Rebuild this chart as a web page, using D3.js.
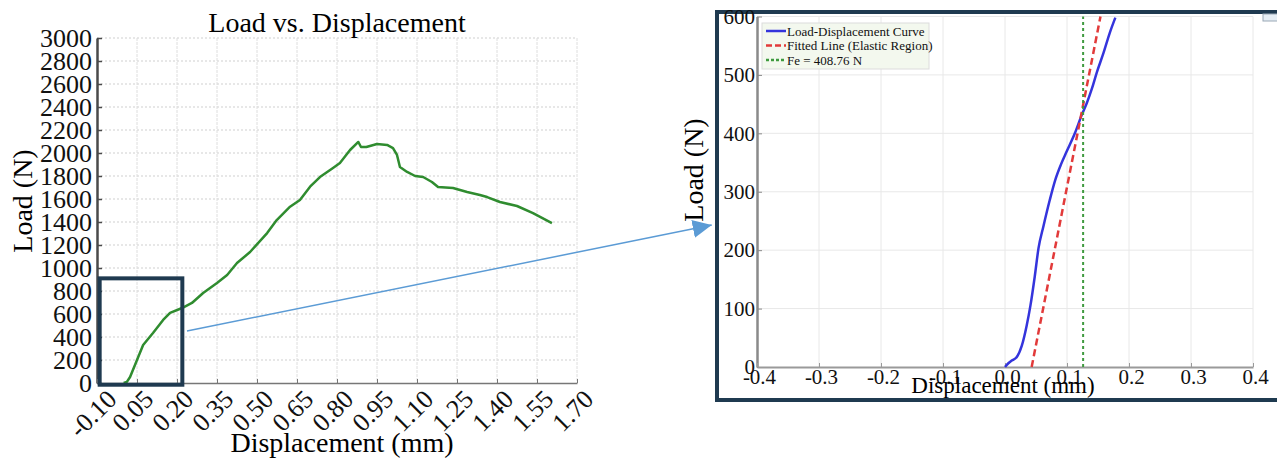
<!DOCTYPE html>
<html>
<head>
<meta charset="utf-8">
<script src="https://cdn.jsdelivr.net/npm/d3@7"></script>
<style>
  body { margin: 0; background: #fff; }
  svg { display: block; font-family: "Liberation Serif", "Times New Roman", serif; }
  svg text { font-family: "Liberation Serif", "Times New Roman", serif; }
</style>
</head>
<body>
<svg id="chart" width="1277" height="465"></svg>
<script>
/*
 * Data.
 */

// full test curve (left panel)
const dispFull = [0.000, 0.012, 0.024, 0.050, 0.073, 0.110, 0.148, 0.174, 0.219, 0.256,
  0.298, 0.350, 0.388, 0.425, 0.474, 0.538, 0.574, 0.624, 0.661, 0.699,
  0.736, 0.785, 0.811, 0.849, 0.880, 0.890, 0.910, 0.950, 0.988, 1.010,
  1.025, 1.036, 1.063, 1.093, 1.123, 1.156, 1.179, 1.235, 1.288, 1.336,
  1.363, 1.411, 1.475, 1.535, 1.606];
const loadFull = [0, 10, 52, 200, 330, 435, 548, 609, 652, 696,
  783, 870, 939, 1043, 1139, 1304, 1417, 1533, 1591, 1707,
  1791, 1870, 1913, 2026, 2096, 2052, 2052, 2078, 2070, 2043,
  1983, 1878, 1835, 1800, 1791, 1748, 1704, 1696, 1661, 1635,
  1617, 1574, 1539, 1478, 1391];
const dispTicksFull = [-0.10, 0.05, 0.20, 0.35, 0.50, 0.65, 0.80, 0.95, 1.10, 1.25, 1.40, 1.55, 1.70];
const loadTicksFull = [0, 200, 400, 600, 800, 1000, 1200, 1400, 1600, 1800, 2000, 2200, 2400, 2600, 2800, 3000];

// zoomed elastic region (right panel)
const dispZoom = [0.000, 0.005, 0.011, 0.019, 0.027, 0.035, 0.041, 0.048, 0.054, 0.062,
  0.072, 0.081, 0.090, 0.100, 0.113, 0.124, 0.132, 0.140, 0.148, 0.159, 0.169, 0.178];
const loadZoom = [0, 6, 11, 17, 36, 71, 105, 155, 203, 241,
  285, 320, 346, 370, 401, 432, 452, 476, 504, 538, 572, 598];
const fitDisp = [0.043, 0.154];
const fitLoad = [0, 600];
const feDisp = [0.126, 0.126];
const feLoad = [0, 600];
const dispTicksZoom = [-0.4, -0.3, -0.2, -0.1, 0.0, 0.1, 0.2, 0.3, 0.4];
const loadTicksZoom = [0, 100, 200, 300, 400, 500, 600];
const legendLabels = ['Load-Displacement Curve', 'Fitted Line (Elastic Region)', 'Fe = 408.76 N'];

// zoom window on the left panel and the arrow linking it to the right panel
const windowDisp = [-0.09, 0.22];
const windowLoad = [-15, 910];
const arrowStart = [0.2375, 452];   // left panel coords
const arrowEnd = [-0.473, 243];     // right panel coords

/*
 * Layout.
 */

const LEFT = {x0: 97, x1: 577, y0: 383, y1: 38};
const RIGHT = {x0: 757, x1: 1253, y0: 367, y1: 16.5};
const NAVY = '#1f3a50';
const SERIF = '"Liberation Serif", "Times New Roman", serif';

const svg = d3.select('#chart');

const xL = d3.scaleLinear().domain([-0.10, 1.70]).range([LEFT.x0, LEFT.x1]);
const yL = d3.scaleLinear().domain([0, 3000]).range([LEFT.y0, LEFT.y1]);
const xR = d3.scaleLinear().domain([-0.4, 0.4]).range([RIGHT.x0, RIGHT.x1]);
const yR = d3.scaleLinear().domain([0, 600]).range([RIGHT.y0, RIGHT.y1]);

// restyle the tick labels d3 axes draw in sans-serif
const serifTicks = (g, size) => {
  g.attr('font-family', SERIF);
  g.selectAll('text')
      .style('font-family', SERIF)
      .attr('font-size', size)
      .attr('fill', '#111');
};

/*
 * Left panel.
 */

const left = svg.append('g').attr('id', 'left');

// grid
left.append('g')
  .selectAll('line')
  .data(loadTicksFull.filter(d => d > 0))
  .join('line')
    .attr('x1', LEFT.x0).attr('x2', LEFT.x1)
    .attr('y1', d => yL(d)).attr('y2', d => yL(d))
    .attr('stroke', '#cfcfcf')
    .attr('stroke-dasharray', '2,2');

left.append('g')
  .selectAll('line')
  .data(dispTicksFull.slice(1))
  .join('line')
    .attr('x1', d => xL(d)).attr('x2', d => xL(d))
    .attr('y1', LEFT.y1).attr('y2', LEFT.y0)
    .attr('stroke', '#dedede')
    .attr('stroke-dasharray', '3,1');

// axes
const axisYL = left.append('g')
    .attr('transform', `translate(${LEFT.x0},0)`)
    .call(d3.axisLeft(yL).tickValues(loadTicksFull).tickSize(-5).tickSizeOuter(0).tickPadding(5)
      .tickFormat(d => String(d)));
axisYL.select('.domain').attr('stroke', '#4a4a4a').attr('stroke-width', 2.5);
axisYL.selectAll('.tick line').attr('stroke', '#4a4a4a').attr('stroke-width', 1.5);
serifTicks(axisYL, 26);

const axisXL = left.append('g')
    .attr('transform', `translate(0,${LEFT.y0})`)
    .call(d3.axisBottom(xL).tickValues(dispTicksFull).tickSize(-4).tickSizeOuter(0)
      .tickFormat(d => d.toFixed(2)));
axisXL.select('.domain').attr('stroke', '#777').attr('stroke-width', 1.5);
axisXL.selectAll('.tick line').attr('stroke', '#777');
serifTicks(axisXL, 26);
axisXL.selectAll('text')
    .attr('y', 0)
    .attr('dy', '0.35em')
    .attr('text-anchor', 'middle')
    .attr('transform', function() {
      const half = (this.getComputedTextLength() + 18) * Math.SQRT1_2 / 2;
      return `translate(-5,${5 + half}) rotate(-45)`;
    });

// curve
const lineL = d3.line()
    .x(i => xL(dispFull[i]))
    .y(i => yL(loadFull[i]));

left.append('path')
    .attr('d', lineL(d3.range(dispFull.length)))
    .attr('fill', 'none')
    .attr('stroke', '#2f8c2f')
    .attr('stroke-width', 2.5)
    .attr('stroke-linejoin', 'round');

// titles
left.append('text')
    .attr('x', (LEFT.x0 + LEFT.x1) / 2)
    .attr('y', 32)
    .attr('text-anchor', 'middle')
    .attr('font-size', 28)
    .text('Load vs. Displacement');

left.append('text')
    .attr('x', 342)
    .attr('y', 452)
    .attr('text-anchor', 'middle')
    .attr('font-size', 28)
    .text('Displacement (mm)');

left.append('text')
    .attr('transform', 'translate(32,201) rotate(-90)')
    .attr('text-anchor', 'middle')
    .attr('font-size', 28)
    .text('Load (N)');

// zoom window
left.append('rect')
    .attr('x', xL(windowDisp[0]))
    .attr('y', yL(windowLoad[1]))
    .attr('width', xL(windowDisp[1]) - xL(windowDisp[0]))
    .attr('height', yL(windowLoad[0]) - yL(windowLoad[1]))
    .attr('fill', 'none')
    .attr('stroke', NAVY)
    .attr('stroke-width', 4);

/*
 * Right panel.
 */

const right = svg.append('g').attr('id', 'right');

// frame
right.append('rect')
    .attr('x', 717).attr('y', 12)
    .attr('width', 600).attr('height', 388)
    .attr('fill', '#fff')
    .attr('stroke', NAVY)
    .attr('stroke-width', 4);

// small toolbar icon in the corner
right.append('rect')
    .attr('x', 1263).attr('y', 14)
    .attr('width', 16).attr('height', 7)
    .attr('fill', '#e6eef5')
    .attr('stroke', '#9aa8b5');

// grid
right.append('g')
  .selectAll('line')
  .data(loadTicksZoom.filter(d => d > 0))
  .join('line')
    .attr('x1', RIGHT.x0).attr('x2', RIGHT.x1)
    .attr('y1', d => yR(d)).attr('y2', d => yR(d))
    .attr('stroke', '#e8e8e8');

right.append('g')
  .selectAll('line')
  .data(dispTicksZoom.slice(1))
  .join('line')
    .attr('x1', d => xR(d)).attr('x2', d => xR(d))
    .attr('y1', RIGHT.y1).attr('y2', RIGHT.y0)
    .attr('stroke', '#e8e8e8');

// axes
const axisYR = right.append('g')
    .attr('transform', `translate(${RIGHT.x0},0)`)
    .call(d3.axisLeft(yR).tickValues(loadTicksZoom).tickSize(-5).tickSizeOuter(0).tickPadding(2));
axisYR.select('.domain').attr('stroke', '#8a8a8a').attr('stroke-width', 2.5);
axisYR.selectAll('.tick line').attr('stroke', '#8a8a8a');
serifTicks(axisYR, 21);

const axisXR = right.append('g')
    .attr('transform', `translate(0,${RIGHT.y0})`)
    .call(d3.axisBottom(xR).tickValues(dispTicksZoom).tickSize(-4).tickSizeOuter(0)
      .tickFormat(d => d.toFixed(1)));
axisXR.select('.domain').attr('stroke', '#9a9a9a').attr('stroke-width', 2);
axisXR.selectAll('.tick line').attr('stroke', '#9a9a9a');
serifTicks(axisXR, 21);
axisXR.selectAll('text')
    .attr('x', 2)
    .attr('y', 2);

// series
const lineR = d3.line().curve(d3.curveMonotoneX);

right.append('path')
    .attr('d', lineR(dispZoom.map((d, i) => [xR(d), yR(loadZoom[i])])))
    .attr('fill', 'none')
    .attr('stroke', '#3434dc')
    .attr('stroke-width', 2.5);

right.append('path')
    .attr('d', d3.line()(fitDisp.map((d, i) => [xR(d), yR(fitLoad[i])])))
    .attr('fill', 'none')
    .attr('stroke', '#e23a3a')
    .attr('stroke-width', 2.5)
    .attr('stroke-dasharray', '7,4');

right.append('path')
    .attr('d', d3.line()(feDisp.map((d, i) => [xR(d), yR(feLoad[i])])))
    .attr('fill', 'none')
    .attr('stroke', '#3f9a3f')
    .attr('stroke-width', 2)
    .attr('stroke-dasharray', '3,3');

// axis titles
right.append('text')
    .attr('x', 1003)
    .attr('y', 393)
    .attr('text-anchor', 'middle')
    .attr('font-size', 23)
    .text('Displacement (mm)');

right.append('text')
    .attr('transform', 'translate(703,170) rotate(-90)')
    .attr('text-anchor', 'middle')
    .attr('font-size', 28)
    .text('Load (N)');

// legend
const legend = right.append('g')
    .attr('id', 'legend')
    .attr('transform', 'translate(762,23)');

legend.append('rect')
    .attr('width', 167)
    .attr('height', 46)
    .attr('fill', '#f3f8ee')
    .attr('stroke', '#dcdcdc');

const legendStyles = [
  {stroke: '#3434dc', dash: null},
  {stroke: '#e23a3a', dash: '6,3'},
  {stroke: '#3f9a3f', dash: '3,2'}
];

const legendRows = legend.selectAll('.legend-row')
  .data(legendLabels)
  .join('g')
    .attr('class', 'legend-row')
    .attr('transform', (d, i) => `translate(0,${8 + i * 14.5})`);

legendRows.append('line')
    .attr('x1', 4).attr('x2', 24)
    .attr('stroke', (d, i) => legendStyles[i].stroke)
    .attr('stroke-width', 2.5)
    .attr('stroke-dasharray', (d, i) => legendStyles[i].dash);

legendRows.append('text')
    .attr('x', 25)
    .attr('dy', '0.35em')
    .attr('font-size', 13)
    .attr('fill', '#111')
    .text(d => d);

/*
 * Arrow linking the zoom window to the right panel.
 */

svg.append('defs')
  .append('marker')
    .attr('id', 'arrowhead')
    .attr('markerUnits', 'userSpaceOnUse')
    .attr('markerWidth', 20)
    .attr('markerHeight', 20)
    .attr('refX', 19)
    .attr('refY', 9)
    .attr('orient', 'auto')
  .append('path')
    .attr('d', 'M0,0 L19,9 L0,18 Z')
    .attr('fill', '#5b9bd5');

svg.append('line')
    .attr('x1', xL(arrowStart[0]))
    .attr('y1', yL(arrowStart[1]))
    .attr('x2', xR(arrowEnd[0]))
    .attr('y2', yR(arrowEnd[1]))
    .attr('stroke', '#5b9bd5')
    .attr('stroke-width', 1.5)
    .attr('marker-end', 'url(#arrowhead)');
</script>
</body>
</html>
